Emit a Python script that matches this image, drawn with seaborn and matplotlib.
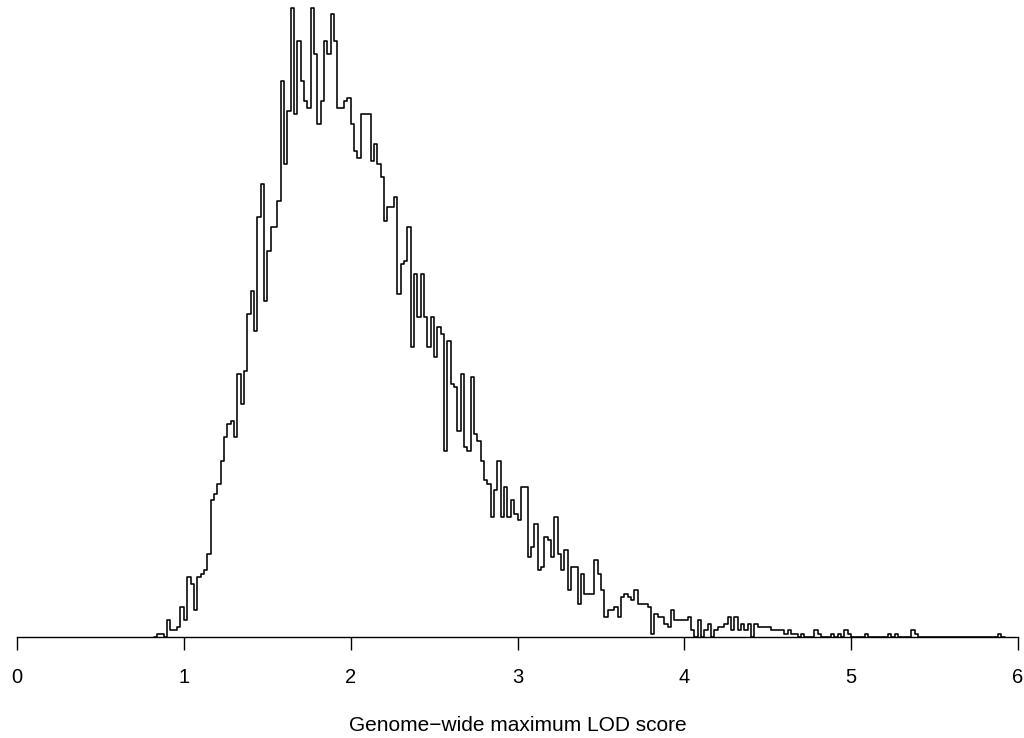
import numpy as np
import pandas as pd
import matplotlib
matplotlib.use("Agg")
import matplotlib.pyplot as plt
import seaborn as sns

# Permutation histogram of genome-wide maximum LOD scores (bin width 0.02)
bin_start = 0.84
bin_width = 0.02
counts = [
    1, 1, 0, 5, 2, 2, 3, 9, 5, 18,
    16, 8, 18, 19, 20, 25, 41, 43, 46, 53,
    60, 64, 65, 60, 79, 70, 80, 97, 104, 92,
    126, 136, 101, 116, 123, 123, 131, 167, 142, 158,
    189, 157, 179, 167, 161, 159, 189, 175, 154, 161,
    179, 175, 187, 179, 159, 159, 161, 162, 154, 146,
    144, 157, 157, 157, 143, 148, 142, 138, 125, 129,
    129, 132, 103, 112, 113, 123, 87, 109, 96, 109,
    96, 87, 96, 84, 93, 91, 56, 89, 76, 75,
    62, 79, 57, 56, 78, 61, 59, 53, 47, 46,
    36, 44, 53, 36, 45, 36, 41, 37, 35, 45,
    45, 24, 27, 34, 20, 21, 30, 29, 24, 36,
    25, 20, 26, 14, 21, 21, 10, 19, 13, 13,
    13, 23, 19, 14, 6, 8, 8, 9, 6, 12,
    13, 12, 11, 14, 10, 10, 10, 9, 1, 7,
    6, 6, 4, 3, 8, 5, 5, 5, 5, 6,
    2, 0, 5, 0, 2, 4, 0, 2, 3, 3,
    4, 6, 2, 6, 2, 4, 2, 4, 0, 4,
    3, 3, 3, 3, 2, 2, 2, 2, 1, 2,
    1, 1, 0, 1, 0, 0, 0, 2, 1, 0,
    0, 0, 1, 0, 1, 0, 2, 1, 0, 0,
    0, 0, 1, 0, 0, 0, 0, 0, 0, 1,
    0, 1, 0, 0, 0, 0, 2, 1, 0, 0,
    0, 0, 0, 0, 0, 0, 0, 0, 0, 0,
    0, 0, 0, 0, 0, 0, 0, 0, 0, 0,
    0, 0, 1,
]
x_ticks = [0, 1, 2, 3, 4, 5, 6]
x_label = "Genome\u2212wide maximum LOD score"

# pad with an empty bin on each side so the outline closes down to zero
full_counts = np.concatenate([[0], counts, [0]])
n = len(full_counts)
edges = bin_start - bin_width + bin_width * np.arange(n + 1)
centers = edges[:-1] + bin_width / 2
df = pd.DataFrame({"lod": centers, "count": full_counts})

sns.set_style("white")
plt.rcParams["font.family"] = ["Liberation Sans", "DejaVu Sans"]
plt.rcParams["text.color"] = "black"
plt.rcParams["axes.labelcolor"] = "black"

fig = plt.figure(figsize=(10.24, 7.38), dpi=100)
ax = fig.add_axes([17 / 1024, (738 - 637) / 738, (1018 - 17) / 1024, 637 / 738])

sns.histplot(data=df, x="lod", weights="count", bins=edges.tolist(),
             element="step", fill=False, color="black", linewidth=1.15,
             ax=ax, clip_on=False)

ax.set_xlim(0, 6)
ax.set_ylim(0, 191.3)
ax.set_xticks(x_ticks)
ax.set_xticklabels([str(t) for t in x_ticks])
ax.set_yticks([])
ax.set_ylabel("")
for side in ["top", "right", "left"]:
    ax.spines[side].set_visible(False)
ax.spines["bottom"].set_linewidth(1.0)
ax.spines["bottom"].set_color("black")
ax.tick_params(axis="x", bottom=True, direction="out", length=9, width=1.0,
               colors="black", labelcolor="black", labelsize=14.5, pad=13.5)
ax.set_xlabel(x_label, fontsize=15, labelpad=21, color="black")

fig.savefig("out.png", dpi=100)
